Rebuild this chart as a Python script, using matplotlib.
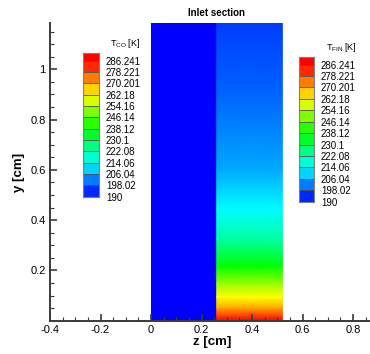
import matplotlib
matplotlib.use("Agg")
import matplotlib.pyplot as plt
import numpy as np
from matplotlib.colors import LinearSegmentedColormap, Normalize

plt.rcParams['font.family'] = ['Liberation Sans', 'DejaVu Sans']
plt.rcParams['axes.unicode_minus'] = False

# data
z_co = [0.0, 0.26]          # CO channel, z extent [cm]
z_fin = [0.26, 0.52]        # fin, z extent [cm]
y_top = 1.183               # domain height [cm]
t_co_inlet = 190.0          # CO temperature at inlet [K] (uniform)

# fin temperature along y at the inlet section
y_fin = [0.0, 0.019, 0.054, 0.094, 0.146, 0.218, 0.324, 0.444, 0.603, 0.90, 1.183]
t_fin = [286.2, 280.5, 270.0, 262.0, 252.5, 238.0, 223.0, 214.0, 206.0, 199.4, 195.7]

levels = [190, 198.02, 206.04, 214.06, 222.08, 230.1, 238.12, 246.14,
          254.16, 262.18, 270.201, 278.221, 286.241]
level_labels = ['190', '198.02', '206.04', '214.06', '222.08', '230.1', '238.12',
                '246.14', '254.16', '262.18', '270.201', '278.221', '286.241']
legend_top = 291.4

x_ticks = [-0.4, -0.2, 0, 0.2, 0.4, 0.6, 0.8]
x_labels = ['-0.4', '-0.2', '0', '0.2', '0.4', '0.6', '0.8']
y_ticks = [0.2, 0.4, 0.6, 0.8, 1.0]
y_labels = ['0.2', '0.4', '0.6', '0.8', '1']

# tecplot-like rainbow
cmap = LinearSegmentedColormap.from_list(
    'rainbow_tp', [(0, (0, 0, 1)), (0.25, (0, 1, 1)), (0.5, (0, 1, 0)),
                   (0.75, (1, 1, 0)), (1, (1, 0, 0))])
norm = Normalize(levels[0], levels[-1])

W, H = 370, 354
fig = plt.figure(figsize=(W / 100, H / 100), dpi=100)


def px_axes(x0, y0, x1, y1):
    return fig.add_axes([x0 / W, 1 - y1 / H, (x1 - x0) / W, (y1 - y0) / H])


ax = px_axes(50, 23.3, 370, 320.7)

# CO channel: uniform
yy = np.array([0.0, y_top])
ax.pcolormesh(z_co, yy, np.full((1, 1), t_co_inlet), cmap=cmap, norm=norm)

# fin: gradient along y
Z, Y = np.meshgrid(z_fin, y_fin)
C = np.repeat(np.array(t_fin)[:, None], 2, axis=1)
ax.pcolormesh(Z, Y, C, cmap=cmap, norm=norm, shading='gouraud')

ax.set_xlim(-0.4, 0.867)
ax.set_ylim(0, y_top)
for s in ['top', 'right']:
    ax.spines[s].set_visible(False)
for s in ['left', 'bottom']:
    ax.spines[s].set_color('#3a3a3a')
    ax.spines[s].set_linewidth(1.4)
ax.set_xticks(x_ticks)
ax.set_xticklabels(x_labels)
ax.set_yticks(y_ticks)
ax.set_yticklabels(y_labels)
ax.set_xticks(np.arange(-0.35, 0.87, 0.05), minor=True)
ax.set_yticks(np.arange(0.05, 1.18, 0.05), minor=True)
ax.tick_params(which='both', direction='in', color='#3a3a3a', labelsize=8)
ax.tick_params(which='major', length=5, width=1.2, pad=3)
ax.tick_params(which='minor', length=3, width=0.8)
ax.set_xlabel('z [cm]', fontsize=9.5, fontweight='bold', va='center')
ax.xaxis.set_label_coords(0.506, -0.072)
ax.set_ylabel('y [cm]', fontsize=9.5, fontweight='bold', va='center')
ax.yaxis.set_label_coords(-0.097, 0.5)
ax.text(0.26, y_top + (23.3 - 13) / 251.5, 'Inlet section', ha='center', va='center',
        fontsize=7, fontweight='bold', clip_on=False)

# legends
edges = np.array(levels + [legend_top])
mids = (edges[:-1] + edges[1:]) / 2


def legend(box, title, title_xy):
    cax = px_axes(*box)
    cax.pcolormesh([0, 1], edges, mids[:, None], cmap=cmap, norm=norm)
    cax.hlines(levels[1:], 0, 1, colors='#505050', lw=0.6)
    cax.set_xlim(0, 1)
    cax.set_ylim(levels[0], legend_top)
    cax.set_xticks([])
    cax.yaxis.tick_right()
    cax.set_yticks(levels)
    cax.set_yticklabels(level_labels)
    cax.tick_params(length=0, labelsize=7, pad=5)
    for s in cax.spines.values():
        s.set_color('#808080')
        s.set_linewidth(0.8)
    fig.text(title_xy[0] / W, 1 - title_xy[1] / H, title, ha='left', va='center', fontsize=6.5)


legend((83.3, 53.3, 99, 196.7), r'T$_{\mathregular{CO}}$ [K]', (110.5, 43))
legend((299, 57.3, 314, 201.7), r'T$_{\mathregular{FIN}}$ [K]', (325.5, 48))

fig.savefig('out.png', dpi=100)
